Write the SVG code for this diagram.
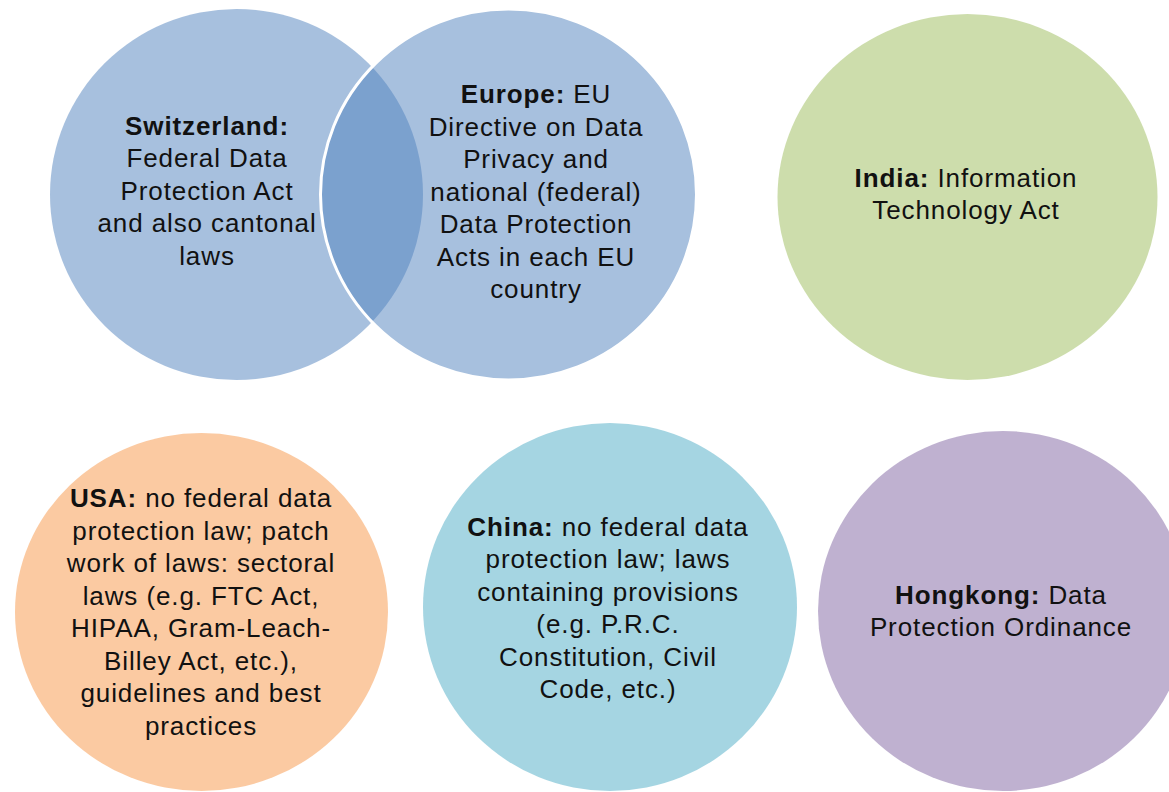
<svg xmlns="http://www.w3.org/2000/svg" width="1169" height="792" viewBox="0 0 1169 792">
<style>
.c{fill-opacity:0.5}
.blue{fill:#4F81BD}
.green{fill:#9BBB59}
.orange{fill:#F79646}
.aqua{fill:#4BACC6}
.purple{fill:#8064A2}
.edge{stroke:#FFFFFF;stroke-width:3}
text{font-family:"Liberation Sans",Arial,sans-serif;font-size:26px;letter-spacing:0.9px;fill:#111111;text-anchor:middle}
.b{font-weight:bold}
</style>
<rect width="1169" height="792" fill="#FFFFFF"/>
<g id="switzerland">
<ellipse class="c blue" cx="236.5" cy="194.5" rx="186.5" ry="185.5"/>
</g>
<g id="europe">
<ellipse class="c blue edge" cx="508.5" cy="194.5" rx="188" ry="185.5"/>
</g>
<g id="switzerland-label">
<text x="207"><tspan x="207" y="134.5" class="b">Switzerland:</tspan><tspan x="207" y="167">Federal Data</tspan><tspan x="207" y="199.5">Protection Act</tspan><tspan x="207" y="232">and also cantonal</tspan><tspan x="207" y="264.5">laws</tspan></text>
</g>
<g id="europe-label">
<text x="536"><tspan x="536" y="103"><tspan class="b">Europe:</tspan> EU</tspan><tspan x="536" y="135.5">Directive on Data</tspan><tspan x="536" y="168">Privacy and</tspan><tspan x="536" y="200.5">national (federal)</tspan><tspan x="536" y="233">Data Protection</tspan><tspan x="536" y="265.5">Acts in each EU</tspan><tspan x="536" y="298">country</tspan></text>
</g>
<g id="india">
<ellipse class="c green" cx="967.5" cy="197" rx="190" ry="183"/>
<text x="966"><tspan x="966" y="187"><tspan class="b">India:</tspan> Information</tspan><tspan x="966" y="219">Technology Act</tspan></text>
</g>
<g id="usa">
<ellipse class="c orange" cx="201.5" cy="612" rx="186.5" ry="179"/>
<text x="201"><tspan x="201" y="507"><tspan class="b">USA:</tspan> no federal data</tspan><tspan x="201" y="539.5">protection law; patch</tspan><tspan x="201" y="572">work of laws: sectoral</tspan><tspan x="201" y="604.5">laws (e.g. FTC Act,</tspan><tspan x="201" y="637">HIPAA, Gram-Leach-</tspan><tspan x="201" y="669.5">Billey Act, etc.),</tspan><tspan x="201" y="702">guidelines and best</tspan><tspan x="201" y="734.5">practices</tspan></text>
</g>
<g id="china">
<ellipse class="c aqua" cx="610" cy="607" rx="187" ry="184"/>
<text x="608"><tspan x="608" y="535.5"><tspan class="b">China:</tspan> no federal data</tspan><tspan x="608" y="568">protection law; laws</tspan><tspan x="608" y="600.5">containing provisions</tspan><tspan x="608" y="633">(e.g. P.R.C.</tspan><tspan x="608" y="665.5">Constitution, Civil</tspan><tspan x="608" y="698">Code, etc.)</tspan></text>
</g>
<g id="hongkong">
<ellipse class="c purple" cx="1003" cy="611" rx="185" ry="180"/>
<text x="1001"><tspan x="1001" y="603.5"><tspan class="b">Hongkong:</tspan> Data</tspan><tspan x="1001" y="636">Protection Ordinance</tspan></text>
</g>
</svg>
